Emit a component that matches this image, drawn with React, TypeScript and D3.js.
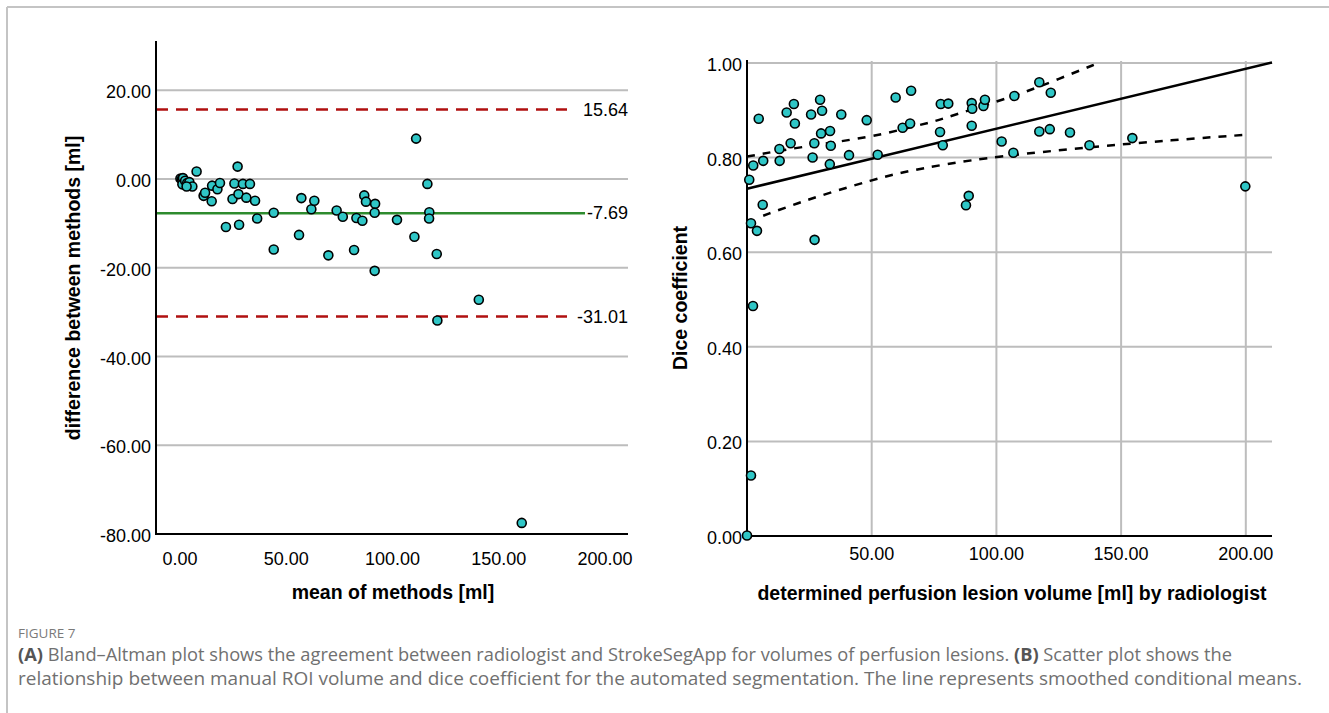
import React from 'react';
import * as d3 from 'd3';

// Panel A: Bland-Altman (mean of methods vs difference)
const baMean = [0.2, 0.9, 1.4, 1.1, 2.4, 3.4, 4.4, 5.8, 3.1, 7.8, 11.1, 11.8, 15.1, 14.9, 17.6, 18.8, 21.6, 27.1, 25.6, 24.7, 27.5, 27.8, 29.6, 31.2, 32.9, 35.3, 36.3, 44.1, 44.1, 56.0, 57.1, 61.8, 63.2, 69.8, 73.7, 76.6, 81.9, 83.0, 85.8, 86.7, 87.5, 91.8, 91.6, 91.6, 102.1, 111.1, 116.4, 117.3, 117.2, 110.3, 120.8, 140.6, 121.1, 160.8];
const baDiff = [0.1, 0.0, 0.2, -1.2, -0.4, -0.9, -0.7, -1.7, -1.7, 1.7, -3.8, -3.1, -1.5, -5.0, -2.3, -0.9, -10.8, 2.8, -1.0, -4.5, -3.4, -10.3, -1.1, -4.2, -1.1, -4.9, -8.9, -7.6, -15.9, -12.6, -4.3, -6.8, -4.9, -17.2, -7.1, -8.5, -16.0, -8.8, -9.4, -3.7, -5.1, -5.6, -7.6, -20.7, -9.2, 9.1, -1.1, -7.5, -8.9, -13.0, -16.9, -27.2, -31.9, -77.5];
const baYTicks = [20, 0, -20, -40, -60, -80];
const baXTicks = [0, 50, 100, 150, 200];
const limitValues = [15.64, -31.01];
const limitLabels = ['15.64', '-31.01'];
const meanDiff = -7.69;
const meanDiffLabel = '-7.69';

// Panel B: volume vs Dice coefficient
const volume = [0.9, 2.5, 4.7, 6.5, 6.3, 1.6, 4.0, 13.0, 13.1, 15.9, 17.5, 18.8, 19.2, 25.7, 26.3, 27.0, 27.1, 29.3, 30.1, 29.7, 33.3, 33.6, 33.2, 37.8, 40.9, 48.0, 52.4, 59.6, 65.8, 62.4, 65.4, 77.4, 78.5, 77.7, 80.7, 90.1, 90.3, 94.8, 95.4, 90.1, 88.9, 87.8, 102.1, 106.8, 107.2, 117.2, 121.8, 117.2, 121.4, 129.5, 137.3, 154.5, 199.8, 1.6, 0.0, 2.4];
const dice = [0.753, 0.783, 0.882, 0.793, 0.700, 0.661, 0.645, 0.818, 0.793, 0.895, 0.830, 0.913, 0.872, 0.891, 0.800, 0.830, 0.626, 0.922, 0.899, 0.851, 0.856, 0.825, 0.786, 0.891, 0.805, 0.879, 0.806, 0.927, 0.941, 0.863, 0.872, 0.854, 0.826, 0.913, 0.914, 0.915, 0.903, 0.909, 0.922, 0.867, 0.719, 0.699, 0.834, 0.810, 0.930, 0.959, 0.937, 0.855, 0.860, 0.853, 0.826, 0.841, 0.739, 0.128, 0.001, 0.486];
const diceYTicks = [0, 0.2, 0.4, 0.6, 0.8, 1.0];
const volXTicks = [50, 100, 150, 200];
const fitX = [0, 210.5];
const fitY = [0.734, 1.001];
const upperX = [0, 21, 50, 67, 75, 85, 100, 112, 124, 141];
const upperY = [0.802, 0.822, 0.843, 0.866, 0.876, 0.893, 0.918, 0.939, 0.964, 1.0];
const lowerX = [6.5, 20, 34.6, 50, 61.3, 79.4, 100, 137.5, 170.8, 200];
const lowerY = [0.677, 0.703, 0.728, 0.752, 0.768, 0.786, 0.802, 0.822, 0.837, 0.848];

const FONT = 'Liberation Sans, Arial, sans-serif';
const GRID = '#bdbdbd';
const DOT = '#2fc6c6';

// SPSS style labels use a plain hyphen for negatives
const fmt = (v: number) => d3.format('.2f')(v).replace('\u2212', '-');

const App = () => {
  // panel A scales
  const xA = d3.scaleLinear().domain([-11.3, 210.8]).range([156, 628]);
  const yA = d3.scaleLinear().domain([-80, 31.1]).range([534, 41]);
  // panel B scales
  const xB = d3.scaleLinear().domain([0, 210.5]).range([747, 1272]);
  const yB = d3.scaleLinear().domain([0, 1.004]).range([536, 61]);

  const band = d3.line<[number, number]>()
    .x((d) => xB(d[0]))
    .y((d) => yB(d[1]))
    .curve(d3.curveBasis);

  return (
    <svg width={1329} height={713} style={{ position: 'absolute', left: 0, top: 0 }} fontFamily={FONT}>
      <rect width={1329} height={713} fill="#fff" />
      <line x1={7} y1={7} x2={1329} y2={7} stroke="#c4c4c4" strokeWidth={2} />
      <line x1={7} y1={7} x2={7} y2={713} stroke="#c4c4c4" strokeWidth={2} />

      {/* Panel A */}
      <g>
        {baYTicks.filter((t) => t !== -80).map((t) => (
          <line key={t} x1={156} x2={628} y1={yA(t)} y2={yA(t)} stroke={GRID} strokeWidth={2} />
        ))}
        {limitValues.map((v, i) => (
          <g key={v}>
            <line x1={156} x2={567} y1={yA(v)} y2={yA(v)} stroke="#b01010" strokeWidth={2.5} strokeDasharray="12,8" />
            <text x={628} y={yA(v) + 6} textAnchor="end" fontSize={18}>{limitLabels[i]}</text>
          </g>
        ))}
        <line x1={156} x2={585} y1={yA(meanDiff)} y2={yA(meanDiff)} stroke="#2e8b2e" strokeWidth={2.5} />
        <text x={628} y={yA(meanDiff) + 6} textAnchor="end" fontSize={18}>{meanDiffLabel}</text>
        {baMean.map((m, i) => (
          <circle key={i} cx={xA(m)} cy={yA(baDiff[i])} r={4.5} fill={DOT} stroke="#000" strokeWidth={1.6} />
        ))}
        <line x1={156} x2={156} y1={41} y2={535} stroke="#000" strokeWidth={2} />
        <line x1={155} x2={628} y1={534} y2={534} stroke="#000" strokeWidth={2} />
        {baYTicks.map((t) => (
          <text key={t} x={151} y={yA(t) + 8} textAnchor="end" fontSize={18}>{fmt(t)}</text>
        ))}
        {baXTicks.map((t) => (
          <text key={t} x={xA(t)} y={565} textAnchor="middle" fontSize={18}>{fmt(t)}</text>
        ))}
        <text x={393} y={599} textAnchor="middle" fontSize={19.5} fontWeight="bold">mean of methods [ml]</text>
        <text transform="translate(80,288) rotate(-90)" textAnchor="middle" fontSize={19.5} fontWeight="bold">difference between methods [ml]</text>
      </g>

      {/* Panel B */}
      <g>
        {diceYTicks.filter((t) => t > 0).map((t) => (
          <line key={t} x1={747} x2={1272} y1={yB(t)} y2={yB(t)} stroke={GRID} strokeWidth={2} />
        ))}
        {volXTicks.map((t) => (
          <line key={t} x1={xB(t)} x2={xB(t)} y1={61} y2={536} stroke={GRID} strokeWidth={2} />
        ))}
        <path d={band(upperX.map((x, i) => [x, upperY[i]]) as [number, number][]) || ''} fill="none" stroke="#000" strokeWidth={2.5} strokeDasharray="8,8" />
        <path d={band(lowerX.map((x, i) => [x, lowerY[i]]) as [number, number][]) || ''} fill="none" stroke="#000" strokeWidth={2.5} strokeDasharray="8,8" />
        <line x1={xB(fitX[0])} y1={yB(fitY[0])} x2={xB(fitX[1])} y2={yB(fitY[1])} stroke="#000" strokeWidth={2.5} />
        <line x1={747} x2={747} y1={60} y2={537} stroke="#000" strokeWidth={2} />
        <line x1={746} x2={1272} y1={536} y2={536} stroke="#000" strokeWidth={2} />
        {volume.map((v, i) => (
          <circle key={i} cx={xB(v)} cy={yB(dice[i])} r={4.5} fill={DOT} stroke="#000" strokeWidth={1.6} />
        ))}
        {diceYTicks.map((t) => (
          <text key={t} x={742} y={yB(t) + 8} textAnchor="end" fontSize={18}>{fmt(t)}</text>
        ))}
        {volXTicks.map((t) => (
          <text key={t} x={xB(t)} y={560} textAnchor="middle" fontSize={18}>{fmt(t)}</text>
        ))}
        <text x={1012} y={600} textAnchor="middle" fontSize={19.5} fontWeight="bold">determined perfusion lesion volume [ml] by radiologist</text>
        <text transform="translate(687,298) rotate(-90)" textAnchor="middle" fontSize={19.5} fontWeight="bold">Dice coefficient</text>
      </g>

      {/* Caption */}
      <g fontFamily="Open Sans, Noto Sans, sans-serif">
        <text x={18} y={638} fontSize={13.5} fill="#7a7a7a">FIGURE 7</text>
        <text x={18} y={661} fontSize={18.3} fill="#707070" textLength={1214} lengthAdjust="spacingAndGlyphs">
          <tspan fontWeight="bold" fill="#555">(A)</tspan> Bland–Altman plot shows the agreement between radiologist and StrokeSegApp for volumes of perfusion lesions. <tspan fontWeight="bold" fill="#555">(B)</tspan> Scatter plot shows the
        </text>
        <text x={18} y={685} fontSize={18.3} fill="#707070" textLength={1284} lengthAdjust="spacingAndGlyphs">relationship between manual ROI volume and dice coefficient for the automated segmentation. The line represents smoothed conditional means.</text>
      </g>
    </svg>
  );
};

export default App;
